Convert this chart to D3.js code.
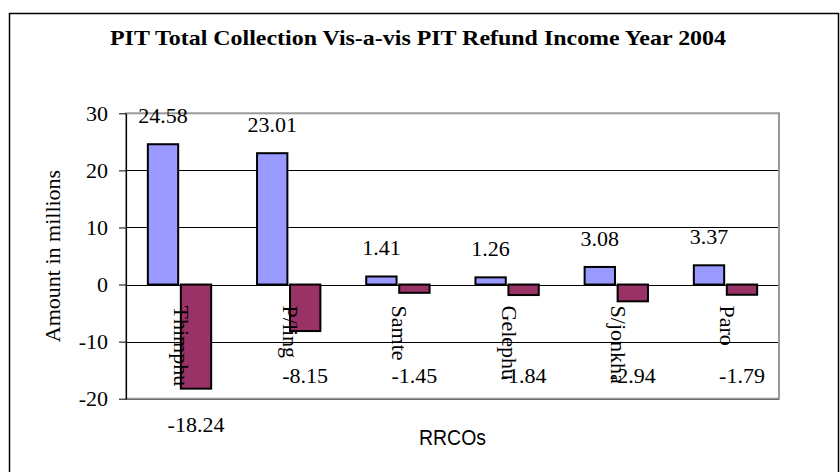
<!DOCTYPE html>
<html>
<head>
<meta charset="utf-8">
<script src="https://cdn.jsdelivr.net/npm/d3@7"></script>
<style>
  body { margin: 0; background: #fff; }
  text { font-family: "Liberation Serif", "Times New Roman", serif; fill: #000; }
</style>
</head>
<body>
<svg id="chart"></svg>
<script>
// values (millions)
const offices = ["Thimphu", "P/ling", "Samte", "Gelephu", "S/jonkha", "Paro"];
const collection = [24.58, 23.01, 1.41, 1.26, 3.08, 3.37];
const refund = [-18.24, -8.15, -1.45, -1.84, -2.94, -1.79];
const yTicks = [-20, -10, 0, 10, 20, 30];

const width = 840, height = 472;
const plot = { left: 126, right: 779, top: 113.3, bottom: 398.7 };

const svg = d3.select("#chart")
    .attr("width", width)
    .attr("height", height);

// outer frame
svg.append("rect")
    .attr("x", 9.5).attr("y", 13.5)
    .attr("width", 829).attr("height", 480)
    .attr("fill", "none")
    .attr("stroke", "#000")
    .attr("stroke-width", 1.5);

svg.append("text")
    .attr("x", 418).attr("y", 45)
    .attr("text-anchor", "middle")
    .attr("font-weight", "bold")
    .attr("font-size", 21)
    .attr("textLength", 616)
    .attr("lengthAdjust", "spacingAndGlyphs")
    .text("PIT Total Collection Vis-a-vis PIT Refund Income Year 2004");

const y = d3.scaleLinear()
    .domain([-20, 30])
    .range([plot.bottom, plot.top]);

const x0 = d3.scaleBand()
    .domain(offices)
    .range([plot.left, plot.right])
    .paddingInner(0.42)
    .paddingOuter(0.2);

const series = ["collection", "refund"];
const x1 = d3.scaleBand()
    .domain(series)
    .range([0, x0.bandwidth()])
    .paddingInner(0.08);

const colors = { collection: "#9999FF", refund: "#993366" };

const rows = offices.map((o, i) => ({ office: o, collection: collection[i], refund: refund[i] }));

// gridlines
svg.append("g")
    .selectAll("line")
    .data(yTicks)
    .join("line")
    .attr("x1", plot.left).attr("x2", plot.right)
    .attr("y1", d => Math.round(y(d)) + 0.5)
    .attr("y2", d => Math.round(y(d)) + 0.5)
    .attr("stroke", "#000")
    .attr("stroke-width", 1);

// plot area border (grey)
svg.append("rect")
    .attr("x", plot.left).attr("y", plot.top)
    .attr("width", plot.right - plot.left)
    .attr("height", plot.bottom - plot.top)
    .attr("fill", "none")
    .attr("stroke", "#9a9a9a")
    .attr("stroke-width", 2);

// y axis
const yAxis = svg.append("g")
    .attr("transform", `translate(${plot.left},0)`)
    .call(d3.axisLeft(y).tickValues(yTicks).tickSize(7).tickPadding(11).tickSizeOuter(0)
        .tickFormat(d => String(d)));
yAxis.select(".domain").attr("stroke", "#000").attr("stroke-width", 1.2);
yAxis.selectAll(".tick line").attr("stroke", "#000");
yAxis.selectAll(".tick text")
    .attr("font-family", "Liberation Serif, serif")
    .attr("font-size", 22)
    .attr("fill", "#000");

// bars
const groups = svg.append("g")
    .selectAll("g")
    .data(rows)
    .join("g")
    .attr("transform", d => `translate(${x0(d.office)},0)`);

groups.selectAll("rect")
    .data(d => series.map(k => ({ key: k, value: d[k] })))
    .join("rect")
    .attr("x", d => x1(d.key))
    .attr("width", x1.bandwidth())
    .attr("y", d => y(Math.max(0, d.value)))
    .attr("height", d => Math.abs(y(d.value) - y(0)))
    .attr("fill", d => colors[d.key])
    .attr("stroke", "#000")
    .attr("stroke-width", 2);

// value labels
groups.selectAll("text.val")
    .data(d => series.map(k => ({ key: k, value: d[k] })))
    .join("text")
    .attr("class", "val")
    .attr("x", d => x1(d.key) + x1.bandwidth() / 2)
    .attr("y", d => d.value >= 0 ? y(d.value) - 21 : Math.max(y(d.value) + 43, y(-17.3)))
    .attr("text-anchor", "middle")
    .attr("font-size", 22)
    .text(d => d.value.toFixed(2));

// category labels, rotated, just under the zero line
svg.append("g")
    .selectAll("text")
    .data(offices)
    .join("text")
    .attr("transform", d => `translate(${x0(d) + x0.bandwidth() / 2},${y(0) + 21}) rotate(90)`)
    .attr("dy", "0.25em")
    .attr("font-size", 22)
    .text(d => d);

// axis titles
svg.append("text")
    .attr("transform", `translate(60,${(plot.top + plot.bottom) / 2}) rotate(-90)`)
    .attr("text-anchor", "middle")
    .attr("font-size", 22)
    .text("Amount in millions");

svg.append("text")
    .attr("x", (plot.left + plot.right) / 2)
    .attr("y", 445)
    .attr("text-anchor", "middle")
    .style("font-family", "Liberation Sans, Arial, sans-serif")
    .attr("font-size", 22)
    .attr("textLength", 67)
    .attr("lengthAdjust", "spacingAndGlyphs")
    .text("RRCOs");
</script>
</body>
</html>
